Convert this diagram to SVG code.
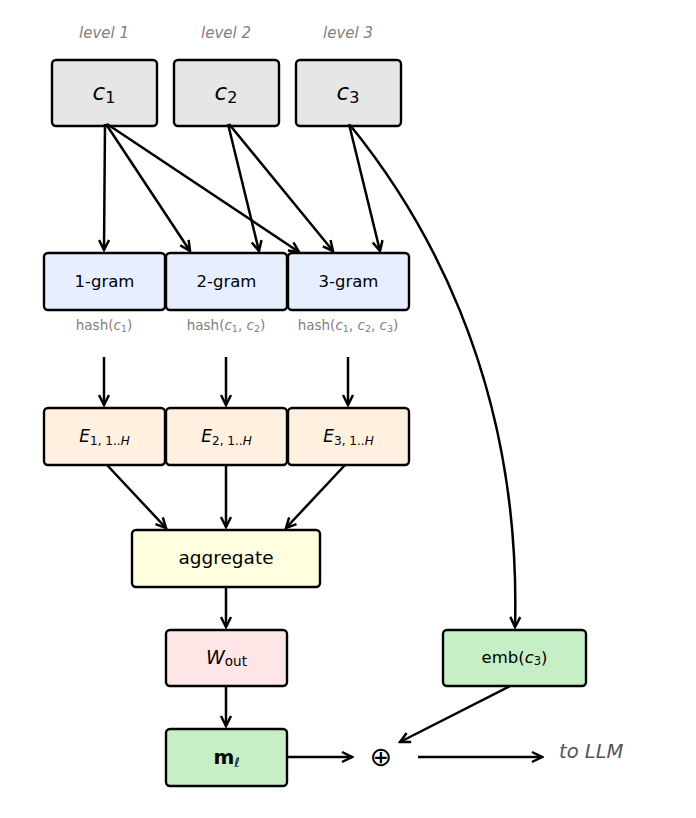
<svg xmlns="http://www.w3.org/2000/svg" width="696" height="818" viewBox="0 0 696 818">
<style>
text{font-family:"DejaVu Sans","Liberation Sans",sans-serif;fill:#000;text-anchor:middle}
.box{stroke:#000;stroke-width:2.4}
.lvl{font-size:15px;font-style:italic;fill:#808080}
.hash{font-size:13.5px;fill:#808080}
.m{font-style:italic}
.ar{fill:none;stroke:#000;stroke-width:2.5;marker-end:url(#ah)}
</style>
<defs>
<marker id="ah" markerUnits="userSpaceOnUse" markerWidth="14" markerHeight="14" viewBox="-12 -7 14 14" refX="0" refY="0" orient="auto">
<path d="M-10,-5 L0,0 L-10,5" fill="none" stroke="#000" stroke-width="2.5"/>
</marker>
</defs>
<g id="levels">
<text class="lvl" x="104" y="38">level 1</text>
<text class="lvl" x="226" y="38">level 2</text>
<text class="lvl" x="348" y="38">level 3</text>
</g>
<g id="c1"><rect class="box" x="52" y="60" width="105" height="66" rx="4" fill="#e6e6e6"/><text x="104" y="100" font-size="23"><tspan class="m">c</tspan><tspan font-size="16" dy="3">1</tspan></text></g>
<g id="c2"><rect class="box" x="174" y="60" width="105" height="66" rx="4" fill="#e6e6e6"/><text x="226" y="100" font-size="23"><tspan class="m">c</tspan><tspan font-size="16" dy="3">2</tspan></text></g>
<g id="c3"><rect class="box" x="296" y="60" width="105" height="66" rx="4" fill="#e6e6e6"/><text x="348" y="100" font-size="23"><tspan class="m">c</tspan><tspan font-size="16" dy="3">3</tspan></text></g>

<g id="g1"><rect class="box" x="44" y="253" width="121" height="57" rx="4" fill="#e6eeff"/><text x="104.5" y="287" font-size="16.5">1-gram</text></g>
<g id="g2"><rect class="box" x="166" y="253" width="121" height="57" rx="4" fill="#e6eeff"/><text x="226.5" y="287" font-size="16.5">2-gram</text></g>
<g id="g3"><rect class="box" x="288" y="253" width="121" height="57" rx="4" fill="#e6eeff"/><text x="348.5" y="287" font-size="16.5">3-gram</text></g>

<g id="hashes">
<text class="hash" x="104" y="330">hash(<tspan class="m">c</tspan><tspan font-size="9.5" dy="2">1</tspan><tspan dy="-2">)</tspan></text>
<text class="hash" x="226" y="330">hash(<tspan class="m">c</tspan><tspan font-size="9.5" dy="2">1</tspan><tspan dy="-2">, </tspan><tspan class="m">c</tspan><tspan font-size="9.5" dy="2">2</tspan><tspan dy="-2">)</tspan></text>
<text class="hash" x="348" y="330">hash(<tspan class="m">c</tspan><tspan font-size="9.5" dy="2">1</tspan><tspan dy="-2">, </tspan><tspan class="m">c</tspan><tspan font-size="9.5" dy="2">2</tspan><tspan dy="-2">, </tspan><tspan class="m">c</tspan><tspan font-size="9.5" dy="2">3</tspan><tspan dy="-2">)</tspan></text>
</g>

<g id="e1"><rect class="box" x="44" y="408" width="121" height="57" rx="4" fill="#fff0e0"/><text x="104.5" y="442" font-size="17"><tspan class="m">E</tspan><tspan font-size="12" dy="3">1, 1..</tspan><tspan font-size="12" class="m">H</tspan></text></g>
<g id="e2"><rect class="box" x="166" y="408" width="121" height="57" rx="4" fill="#fff0e0"/><text x="226.5" y="442" font-size="17"><tspan class="m">E</tspan><tspan font-size="12" dy="3">2, 1..</tspan><tspan font-size="12" class="m">H</tspan></text></g>
<g id="e3"><rect class="box" x="288" y="408" width="121" height="57" rx="4" fill="#fff0e0"/><text x="348.5" y="442" font-size="17"><tspan class="m">E</tspan><tspan font-size="12" dy="3">3, 1..</tspan><tspan font-size="12" class="m">H</tspan></text></g>

<g id="aggregate"><rect class="box" x="132" y="530" width="188" height="57" rx="4" fill="#ffffe0"/><text x="226" y="564" font-size="18.5">aggregate</text></g>
<g id="wout"><rect class="box" x="166" y="630" width="121" height="56" rx="4" fill="#ffe6e6"/><text x="226.5" y="664" font-size="19"><tspan class="m">W</tspan><tspan font-size="13.5" dy="2">out</tspan></text></g>
<g id="ml"><rect class="box" x="166" y="729" width="121" height="57" rx="4" fill="#c6efc6"/><text x="226.5" y="764" font-size="20" font-weight="bold">m<tspan font-size="13" font-weight="normal" font-style="italic" dy="3">ℓ</tspan></text></g>
<g id="emb"><rect class="box" x="443" y="630" width="143" height="56" rx="4" fill="#c6efc6"/><text x="514.5" y="663" font-size="16.5">emb(<tspan class="m">c</tspan><tspan font-size="11.5" dy="2">3</tspan><tspan dy="-2">)</tspan></text></g>
<g id="plus"><text x="381" y="766" font-size="27">⊕</text></g>
<g id="tollm"><text x="559" y="758" font-size="19.5" font-style="italic" style="text-anchor:start;fill:#555">to LLM</text></g>

<g id="connectors">
<path class="ar" d="M105,124 L104,250"/>
<path class="ar" d="M106,124 L190,251"/>
<path class="ar" d="M107,124 L299,252"/>
<path class="ar" d="M228,124 L259,251"/>
<path class="ar" d="M229,124 L333,251"/>
<path class="ar" d="M349,124 L380,251"/>
<path class="ar" d="M350,125 C415,205 522,370 515,627"/>
<path class="ar" d="M104,357 L104,405"/>
<path class="ar" d="M226,357 L226,405"/>
<path class="ar" d="M348,357 L348,405"/>
<path class="ar" d="M107,465 L166,528"/>
<path class="ar" d="M226,465 L226,527"/>
<path class="ar" d="M345,465 L286,528"/>
<path class="ar" d="M226,587 L226,627"/>
<path class="ar" d="M226,686 L226,726"/>
<path class="ar" d="M287,757 L352,757"/>
<path class="ar" d="M510,686 L400,742"/>
<path class="ar" d="M418,757 L542,757"/>
</g>
</svg>
